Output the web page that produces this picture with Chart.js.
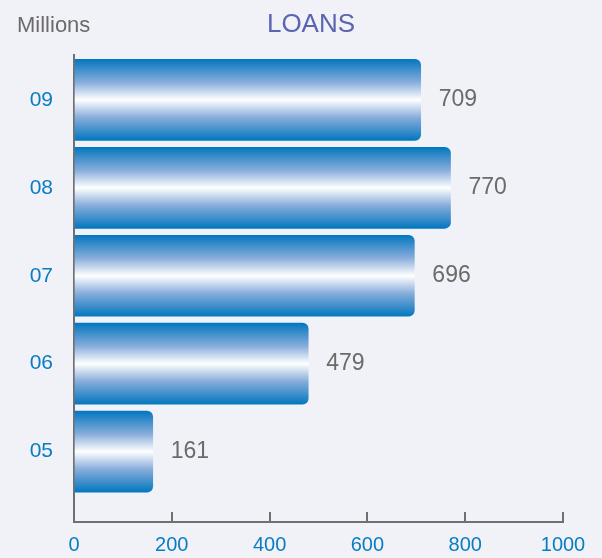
<!DOCTYPE html>
<html>
<head>
<meta charset="utf-8">
<script src="https://cdn.jsdelivr.net/npm/chart.js@4/dist/chart.umd.min.js"></script>
<style>
    body { margin: 0; background: #f1f2f8; }
    canvas { display: block; }
</style>
</head>
<body>
<canvas id="loansChart" width="602" height="558"></canvas>
<script>
// Dados do gráfico (de cima para baixo)
const years = ['09', '08', '07', '06', '05'];
const loans = [709, 770, 696, 479, 161];
const xTicks = [0, 200, 400, 600, 800, 1000];

const FONT = "'Liberation Sans', Arial, sans-serif";
const BLUE = '#0a7cc1';
const GREY = '#6b6b6b';
const AXIS = '#707074';
const BAR_THICKNESS = 81;

Chart.defaults.font.family = FONT;
Chart.defaults.color = GREY;

// Gradiente "cilindro" de cada barra
function barFill(context) {
    const chart = context.chart;
    const yScale = chart.scales.y;
    if (!chart.chartArea || !yScale) return BLUE;
    const mid = yScale.getPixelForValue(context.dataIndex);
    const half = BAR_THICKNESS / 2;
    const g = chart.ctx.createLinearGradient(0, mid - half, 0, mid + half);
    g.addColorStop(0, '#0477bf');
    g.addColorStop(0.28, '#86acdb');
    g.addColorStop(0.5, '#ffffff');
    g.addColorStop(0.72, '#86acdb');
    g.addColorStop(1, '#0477bf');
    return g;
}

// Textos do cabeçalho
const headerText = {
    id: 'headerText',
    afterDraw(chart) {
        const ctx = chart.ctx;
        ctx.save();
        ctx.textBaseline = 'middle';
        ctx.textAlign = 'left';
        ctx.fillStyle = GREY;
        ctx.font = '22px ' + FONT;
        ctx.fillText('Millions', 17, 26);
        ctx.textAlign = 'center';
        ctx.fillStyle = '#5a64b0';
        ctx.font = '26px ' + FONT;
        ctx.fillText('LOANS', 311, 25);
        ctx.restore();
    }
};

// Valores ao lado das barras
const valueLabels = {
    id: 'valueLabels',
    afterDatasetsDraw(chart) {
        const ctx = chart.ctx;
        const meta = chart.getDatasetMeta(0);
        ctx.save();
        ctx.font = '23px ' + FONT;
        ctx.fillStyle = GREY;
        ctx.textAlign = 'left';
        ctx.textBaseline = 'middle';
        meta.data.forEach(function(bar, i) {
            ctx.fillText(String(loans[i]), bar.x + 18, bar.y);
        });
        ctx.restore();
    }
};

new Chart(document.getElementById('loansChart'), {
    type: 'bar',
    data: {
        datasets: [{
            data: loans.map(function(v, i) { return { x: v, y: i }; }),
            backgroundColor: barFill,
            borderWidth: 0,
            borderSkipped: 'start',
            borderRadius: { topRight: 6, bottomRight: 6 },
            barThickness: BAR_THICKNESS
        }]
    },
    options: {
        indexAxis: 'y',
        responsive: false,
        animation: false,
        layout: { padding: { top: 55, right: 39, left: 0, bottom: 0 } },
        plugins: {
            legend: { display: false },
            tooltip: { enabled: false }
        },
        scales: {
            x: {
                type: 'linear',
                min: xTicks[0],
                max: xTicks[xTicks.length - 1],
                afterBuildTicks: function(scale) {
                    scale.ticks = xTicks.map(function(v) { return { value: v }; });
                },
                afterFit: function(scale) {
                    scale.height = 36;
                    scale.paddingLeft = 0;
                    scale.paddingRight = 0;
                },
                grid: {
                    display: true,
                    drawOnChartArea: false,
                    tickLength: -10,
                    color: AXIS,
                    lineWidth: 2
                },
                border: { display: true, color: AXIS, width: 2 },
                ticks: {
                    color: BLUE,
                    font: { size: 20 },
                    padding: 21,
                    maxRotation: 0,
                    callback: function(value) { return String(value); }
                }
            },
            y: {
                type: 'linear',
                reverse: true,
                offset: false,
                bounds: 'data',
                min: -0.51,
                max: 4.8,
                z: 1,
                afterBuildTicks: function(scale) {
                    scale.ticks = years.map(function(_, i) { return { value: i }; });
                },
                afterFit: function(scale) {
                    scale.width = 74;
                },
                grid: { display: false, offset: false },
                border: { display: true, color: AXIS, width: 2 },
                ticks: {
                    color: BLUE,
                    font: { size: 21 },
                    padding: 13,
                    callback: function(value) { return years[value]; }
                }
            }
        }
    },
    plugins: [headerText, valueLabels]
});
</script>
</body>
</html>
